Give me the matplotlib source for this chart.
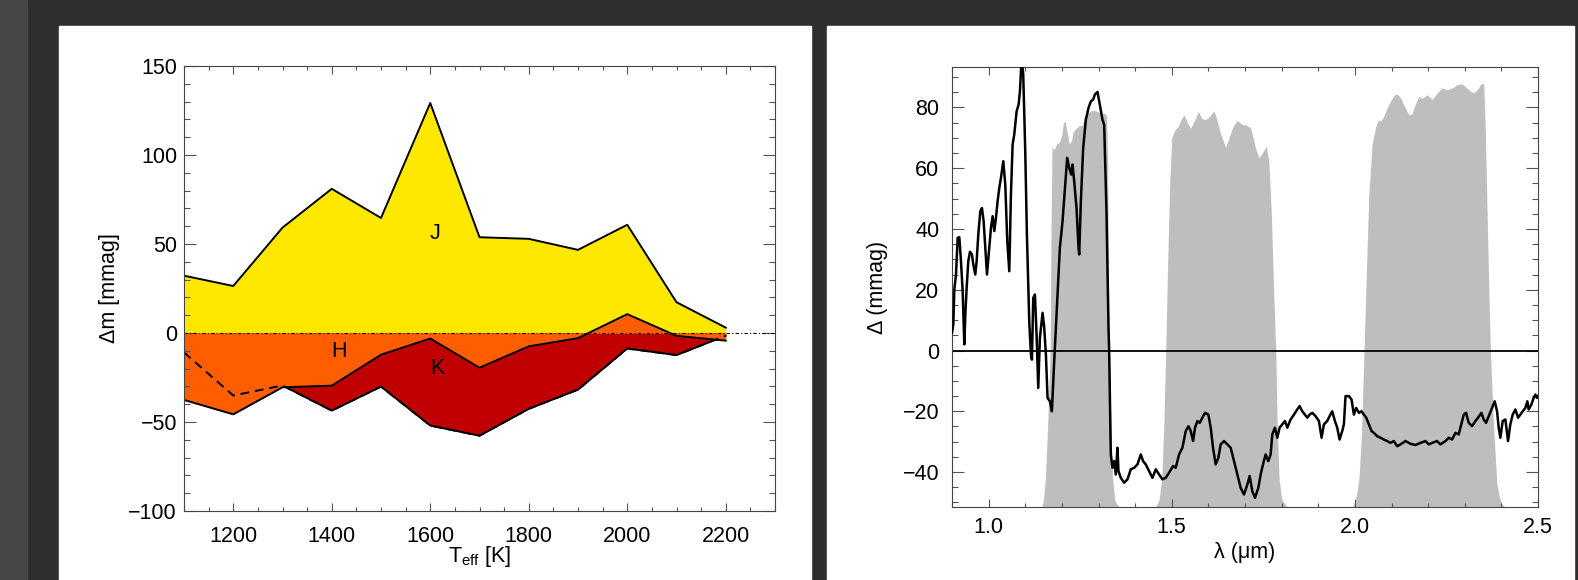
"""
Two panels: photometric colour offsets vs Teff (left) and the spectral
difference with the J/H/K filter curves behind it (right).
"""
import matplotlib
matplotlib.use("Agg")
import matplotlib.pyplot as plt
from matplotlib.patches import Rectangle
from matplotlib.ticker import MultipleLocator

plt.rcParams["font.family"] = ["Liberation Sans", "DejaVu Sans"]
plt.rcParams["mathtext.fontset"] = "custom"
plt.rcParams["mathtext.rm"] = "Liberation Sans"
plt.rcParams["font.size"] = 15.5

# ---- left panel data (mmag) ----
teff = [1100, 1200, 1300, 1400, 1500, 1600, 1700, 1800, 1900, 2000, 2100, 2200]
dm_j = [32.2, 26.4, 59.2, 81.0, 64.6, 129.2, 53.8, 52.9, 46.7, 60.8, 17.3, 3.0]
dm_h = [-37.6, -45.7, -30.5, -29.6, -12.2, -3.1, -19.5, -7.5, -2.9, 10.6, -1.6, -4.3]
dm_k = [-10.9, -35.1, -29.5, -43.6, -30.1, -52.0, -57.7, -42.6, -31.8, -8.7, -12.4, -1.5]

# ---- right panel data ----
wave = [0.900, 0.9036, 0.9064, 0.9109, 0.9155, 0.920, 0.9245, 0.9291, 0.9336, 0.9364,
        0.940, 0.9445, 0.9491, 0.9545, 0.9582, 0.9636, 0.9673, 0.9718, 0.9773, 0.9818,
        0.9864, 0.9909, 0.9955, 1.0018, 1.0064, 1.0109, 1.0155, 1.020, 1.0245, 1.0291,
        1.0336, 1.040, 1.0455, 1.0509, 1.0564, 1.0609, 1.0655, 1.070, 1.0764, 1.0818,
        1.0855, 1.090, 1.0945, 1.100, 1.1045, 1.1109, 1.1155, 1.1182, 1.1218, 1.1264,
        1.1309, 1.1355, 1.140, 1.1473, 1.1518, 1.1564, 1.1609, 1.1673, 1.1727, 1.1791,
        1.1882, 1.1945, 1.2018, 1.2091, 1.2145, 1.220, 1.2255, 1.2291, 1.2336, 1.240,
        1.2455, 1.2473, 1.2518, 1.2582, 1.2655, 1.2727, 1.2791, 1.2855, 1.290, 1.2973,
        1.3036, 1.3109, 1.3155, 1.3182, 1.3218, 1.3245, 1.3273, 1.3291, 1.3309, 1.3336,
        1.3382, 1.3427, 1.3473, 1.3518, 1.3545, 1.3609, 1.370, 1.3791, 1.3882, 1.3973,
        1.4064, 1.4155, 1.4218, 1.4291, 1.4382, 1.4473, 1.4564, 1.4655, 1.4745, 1.4836,
        1.4927, 1.5036, 1.5109, 1.520, 1.5291, 1.5382, 1.5455, 1.5518, 1.5582, 1.5636,
        1.570, 1.5764, 1.5836, 1.5909, 1.600, 1.6064, 1.6127, 1.620, 1.6273, 1.6336,
        1.6427, 1.6518, 1.6609, 1.670, 1.6791, 1.6882, 1.6973, 1.7064, 1.7127, 1.720,
        1.7273, 1.7364, 1.7427, 1.7491, 1.7564, 1.7636, 1.770, 1.7745, 1.7818, 1.7882,
        1.7945, 1.8018, 1.8091, 1.8155, 1.8245, 1.8336, 1.8427, 1.8491, 1.8564, 1.8636,
        1.870, 1.8764, 1.8836, 1.8927, 1.9018, 1.9091, 1.9155, 1.9245, 1.9309, 1.9382,
        1.9455, 1.9518, 1.9582, 1.9655, 1.970, 1.9745, 1.9836, 1.9909, 1.9973, 2.0036,
        2.0109, 2.0182, 2.0245, 2.0309, 2.0382, 2.0455, 2.0518, 2.0609, 2.070, 2.0791,
        2.0882, 2.0973, 2.1064, 2.1155, 2.1245, 2.1382, 2.1518, 2.1655, 2.1791, 2.1927,
        2.2018, 2.2109, 2.2245, 2.2336, 2.2473, 2.2564, 2.2655, 2.2745, 2.2836, 2.2882,
        2.2973, 2.3036, 2.3109, 2.320, 2.3291, 2.3364, 2.3455, 2.3518, 2.3582, 2.3673,
        2.3745, 2.3818, 2.3882, 2.3927, 2.3973, 2.4036, 2.4109, 2.4182, 2.4245, 2.4309,
        2.4382, 2.4455, 2.4518, 2.4582, 2.4655, 2.4709, 2.4745, 2.4818, 2.4882, 2.4927,
        2.4973, 2.500]
delta = [5.8, 8.6, 20.1, 25.0, 37.1, 37.3, 29.4, 19.5, 2.0, 11.8,
         20.6, 29.4, 32.5, 31.6, 28.3, 25.0, 29.4, 38.2, 45.8, 46.9,
         42.5, 33.8, 25.0, 33.8, 40.4, 44.2, 39.3, 43.6, 49.1, 53.5,
         56.8, 62.3, 54.6, 36.0, 26.1, 51.3, 67.8, 71.1, 78.7, 80.9,
         85.3, 96.0, 90.8, 65.6, 38.2, 9.6, -1.3, -3.0, 17.3, 18.4,
         5.3, -12.3, 4.2, 12.4, 7.5, -1.3, -15.6, -16.7, -20.0, -3.5,
         18.4, 33.8, 42.5, 54.6, 63.4, 60.1, 57.9, 61.2, 55.7, 46.9,
         33.8, 31.6, 49.1, 66.7, 76.0, 79.8, 82.0, 82.6, 84.2, 85.1,
         80.9, 76.0, 74.3, 62.3, 45.8, 27.2, 7.5, 0.0, -13.4, -34.2,
         -38.6, -36.4, -40.8, -32.0, -39.7, -41.9, -43.5, -42.4, -39.1, -38.6,
         -37.5, -34.2, -36.4, -37.5, -39.7, -41.9, -39.1, -40.8, -42.4, -41.9,
         -40.2, -38.0, -38.6, -34.2, -32.0, -26.5, -24.9, -26.5, -29.8, -25.4,
         -23.2, -23.8, -22.1, -20.5, -21.1, -25.4, -32.0, -37.5, -35.3, -30.9,
         -29.8, -30.9, -32.0, -36.4, -40.8, -45.2, -47.4, -44.1, -41.3, -46.3,
         -48.5, -45.2, -40.8, -37.5, -34.2, -36.4, -34.2, -27.6, -25.4, -28.7,
         -25.4, -24.3, -23.2, -25.4, -22.7, -21.1, -19.4, -18.3, -20.0, -21.1,
         -22.1, -21.1, -20.5, -21.6, -23.2, -28.7, -24.3, -23.2, -21.6, -20.0,
         -23.2, -25.4, -29.3, -26.5, -24.3, -15.0, -15.0, -16.1, -21.1, -18.9,
         -20.5, -20.0, -21.1, -22.1, -24.3, -26.5, -27.1, -28.2, -28.7, -29.3,
         -29.8, -30.4, -29.8, -31.5, -30.9, -29.8, -30.7, -31.1, -30.4, -29.8,
         -30.9, -30.4, -29.8, -30.9, -29.8, -28.7, -29.3, -27.1, -27.6, -25.4,
         -21.1, -20.5, -23.8, -24.9, -23.2, -22.1, -20.5, -22.7, -23.8, -21.1,
         -18.9, -16.7, -20.0, -25.4, -28.7, -23.2, -22.7, -29.8, -24.3, -21.1,
         -19.4, -22.1, -21.1, -20.0, -18.9, -16.7, -19.4, -17.8, -15.6, -14.5,
         -15.6, -15.0]

# filter transmission curves, scaled to the plot units
j_wave = [1.146, 1.150, 1.155, 1.161, 1.168, 1.170, 1.173, 1.179, 1.186, 1.193,
          1.200, 1.204, 1.209, 1.215, 1.220, 1.226, 1.231, 1.238, 1.247, 1.255,
          1.261, 1.270, 1.280, 1.290, 1.300, 1.310, 1.318, 1.322, 1.325, 1.327,
          1.329, 1.334, 1.338, 1.345, 1.356]
j_top = [-51.5, -49, -42, -25, 0, 35, 67, 66, 68, 68.5,
         71, 75, 75.5, 71.5, 68, 69, 72, 73, 74, 74,
         76.5, 78, 79, 79, 78.5, 78, 78, 77, 62, 30,
         0, -25, -42, -49.5, -51.5]
h_wave = [1.456, 1.4655, 1.4727, 1.4782, 1.4836, 1.489, 1.4945, 1.500, 1.509, 1.518,
          1.5255, 1.5336, 1.5427, 1.5518, 1.561, 1.5727, 1.5818, 1.5927, 1.6036, 1.6155,
          1.6245, 1.6336, 1.6473, 1.6564, 1.6673, 1.679, 1.6927, 1.702, 1.7155, 1.730,
          1.738, 1.750, 1.758, 1.765, 1.772, 1.778, 1.784, 1.788, 1.793, 1.800,
          1.815]
h_top = [-51.5, -49, -42, -25, 0, 30, 55, 70, 72.7, 73.8,
         76, 77.6, 74.9, 73.2, 75.4, 78.7, 76.3, 76, 77.1, 78.9,
         75.4, 71.1, 66.9, 70, 73.8, 75.7, 74.3, 74.3, 73.2, 66,
         63.4, 65.5, 67.2, 62.3, 45, 20, 0, -25, -42, -49,
         -51.5]
k_wave = [1.993, 2.002, 2.011, 2.018, 2.025, 2.031, 2.038, 2.047, 2.056, 2.064,
          2.070, 2.079, 2.088, 2.097, 2.109, 2.116, 2.125, 2.135, 2.147, 2.156,
          2.165, 2.175, 2.184, 2.197, 2.211, 2.225, 2.238, 2.252, 2.266, 2.279,
          2.293, 2.306, 2.316, 2.325, 2.334, 2.343, 2.349, 2.352, 2.356, 2.361,
          2.366, 2.370, 2.375, 2.379, 2.384, 2.388, 2.395, 2.402, 2.411]
k_top = [-51.5, -49, -42.5, -27.6, 0, 24, 51, 67.8, 73.2, 76,
         75.4, 77.1, 79.8, 82, 84.2, 84.4, 83.1, 80.5, 77.6, 77.9,
         81, 83.7, 82.9, 84.2, 82.6, 84.8, 86.4, 85.8, 86.4, 87.5,
         87.7, 86.4, 85.3, 84.8, 85.8, 87.5, 88, 87.5, 73.2, 45.8,
         18.4, 0, -14.5, -25.4, -36.4, -44.1, -48.5, -50.7, -51.5]

FILTER_BASE = -60
YELLOW, ORANGE, RED, GREY = "#ffe800", "#ff5e00", "#c00000", "#bebebe"
W, H = 1578, 580


def style_axes(ax, xmaj, xmin, ymaj, ymin, xpad, ypad):
    """ IDL風の軸スタイル """
    for s in ax.spines.values():
        s.set_color("#444444")
        s.set_linewidth(0.8)
    ax.xaxis.set_major_locator(MultipleLocator(xmaj))
    ax.xaxis.set_minor_locator(MultipleLocator(xmin))
    ax.yaxis.set_major_locator(MultipleLocator(ymaj))
    ax.yaxis.set_minor_locator(MultipleLocator(ymin))
    ax.tick_params(which="both", direction="in", top=True, right=True,
                   color="#555555", width=0.8)
    ax.tick_params(axis="x", which="major", length=5.8, pad=xpad)
    ax.tick_params(axis="x", which="minor", length=3.2)
    ax.tick_params(axis="y", which="major", length=8.6, pad=ypad)
    ax.tick_params(axis="y", which="minor", length=4.3)


fig = plt.figure(figsize=(W / 100, H / 100), dpi=100, facecolor="#2e2e2e")
fig.add_artist(Rectangle((0, 0), 27 / W, 1, transform=fig.transFigure,
                         color="#464646", zorder=-10))
fig.add_artist(Rectangle((59 / W, 0), (811 - 59) / W, (H - 26) / H,
                         transform=fig.transFigure, color="white", zorder=-10))
fig.add_artist(Rectangle((827 / W, 0), (1574 - 827) / W, (H - 26) / H,
                         transform=fig.transFigure, color="white", zorder=-10))

# ---- left panel ----
# 描画順: 黄 -> 赤 -> K線 -> 橙 (Kを隠す) -> H線 -> J線 -> 隠れたKを破線で
ax1 = fig.add_axes([184 / W, (H - 511) / H, 591 / W, 445 / H])
ax1.fill_between(teff, 0, dm_j, color=YELLOW, lw=0, zorder=1.0)
ax1.fill_between(teff, 0, dm_k, color=RED, lw=0, zorder=1.1)
ax1.plot(teff, dm_k, color="black", lw=1.4, zorder=1.2)
ax1.fill_between(teff, 0, dm_h, color=ORANGE, lw=0, zorder=1.3)
ax1.plot(teff, dm_h, color="black", lw=1.4, zorder=1.4)
ax1.plot(teff, dm_j, color="black", lw=1.4, zorder=1.5)
ax1.plot(teff, dm_k, color="black", lw=1.4, ls=(0, (4.5, 3)), zorder=1.6)
ax1.axhline(0, color="black", lw=0.8, ls=(0, (3, 2, 1, 2)), zorder=1.7)
ax1.text(1609, 56, "J", ha="center", va="center", zorder=3)
ax1.text(1414, -10.3, "H", ha="center", va="center", zorder=3)
ax1.text(1614, -20, "K", ha="center", va="center", zorder=3)
ax1.set_xlim(1100, 2300)
ax1.set_ylim(-100, 150)
style_axes(ax1, 200, 50, 50, 10, 10.5, 5)
ax1.set_xlabel(r"T$_\mathregular{eff}$ [K]", va="top")
ax1.set_ylabel("Δm [mmag]")
ax1.xaxis.set_label_coords(0.5, -0.074)
ax1.yaxis.set_label_coords(-0.108, 0.5)

# ---- right panel ----
ax2 = fig.add_axes([952 / W, (H - 507) / H, 586 / W, 440 / H])
for fw, ft in [(j_wave, j_top), (h_wave, h_top), (k_wave, k_top)]:
    ax2.fill_between(fw, FILTER_BASE, ft, color=GREY, lw=0, zorder=1)
ax2.axhline(0, color="black", lw=1.3, zorder=2)
ax2.plot(wave, delta, color="black", lw=1.8, zorder=3)
ax2.set_xlim(0.9, 2.5)
ax2.set_ylim(-51.5, 93.3)
style_axes(ax2, 0.5, 0.1, 20, 5, 7, 9)
ax2.set_xlabel("λ (μm)", va="top")
ax2.set_ylabel("Δ (mmag)")
ax2.xaxis.set_label_coords(0.5, -0.08)
ax2.yaxis.set_label_coords(-0.11, 0.5)

fig.savefig("out.png", dpi=100, facecolor=fig.get_facecolor())
